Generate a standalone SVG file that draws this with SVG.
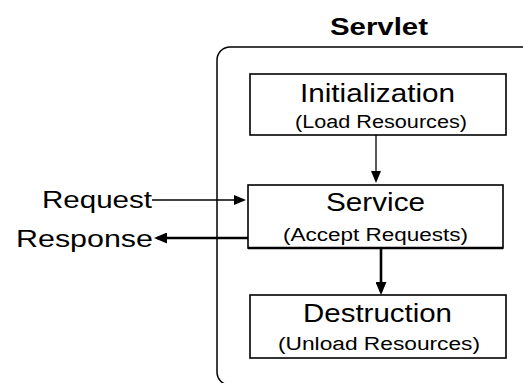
<svg xmlns="http://www.w3.org/2000/svg" width="523" height="383" viewBox="0 0 523 383">
<style>
text{font-family:"Liberation Sans",Arial,Helvetica,sans-serif;fill:#000}
.box{fill:#fff;stroke:#000;stroke-width:1.6}
.big{font-size:26px}
.small{font-size:18px}
.side{font-size:23px}
.title{font-size:24px;font-weight:bold}
.thin{stroke:#000;stroke-width:1.3;fill:none}
.thick{stroke:#000;stroke-width:2.6;fill:none}
</style>
<defs>
<marker id="ah" viewBox="0 0 12 10" refX="10" refY="5" markerWidth="12" markerHeight="10" markerUnits="userSpaceOnUse" orient="auto">
<path d="M0,0 L12,5 L0,10 z" fill="#000"/>
</marker>
<marker id="ahb" viewBox="0 0 13 11" refX="10" refY="5.5" markerWidth="13" markerHeight="11" markerUnits="userSpaceOnUse" orient="auto">
<path d="M0,0 L13,5.5 L0,11 z" fill="#000"/>
</marker>
</defs>
<g id="servlet">
<rect x="217" y="47" width="420" height="338" rx="13" ry="13" fill="none" stroke="#000" stroke-width="1.5"/>
<text class="title" x="330" y="35" textLength="98" lengthAdjust="spacingAndGlyphs">Servlet</text>
</g>
<g id="connectors">
<line class="thin" x1="376" y1="135" x2="376" y2="181" marker-end="url(#ah)"/>
<line class="thick" x1="381" y1="248" x2="381" y2="292" marker-end="url(#ahb)"/>
<line class="thin" x1="152" y1="200" x2="244" y2="200" marker-end="url(#ah)"/>
<line class="thick" x1="248" y1="238" x2="157" y2="238" marker-end="url(#ahb)"/>
</g>
<g id="initialization">
<rect class="box" x="250" y="74" width="256" height="61"/>
<text class="big" x="300" y="102" textLength="155" lengthAdjust="spacingAndGlyphs">Initialization</text>
<text class="small" x="295" y="128" textLength="172" lengthAdjust="spacingAndGlyphs">(Load Resources)</text>
</g>
<g id="service">
<rect class="box" x="248" y="185" width="255" height="63"/>
<line x1="248" y1="248" x2="503" y2="248" stroke="#000" stroke-width="2.6"/>
<text class="big" x="326" y="211" textLength="99" lengthAdjust="spacingAndGlyphs">Service</text>
<text class="small" x="283" y="241" textLength="185" lengthAdjust="spacingAndGlyphs">(Accept Requests)</text>
</g>
<g id="destruction">
<rect class="box" x="250" y="295" width="256" height="63"/>
<text class="big" x="303" y="322" textLength="149" lengthAdjust="spacingAndGlyphs">Destruction</text>
<text class="small" x="278" y="350" textLength="202" lengthAdjust="spacingAndGlyphs">(Unload Resources)</text>
</g>
<g id="request">
<text class="side" x="42" y="208" textLength="110" lengthAdjust="spacingAndGlyphs">Request</text>
</g>
<g id="response">
<text class="side" x="16" y="247" textLength="137" lengthAdjust="spacingAndGlyphs">Response</text>
</g>
</svg>
